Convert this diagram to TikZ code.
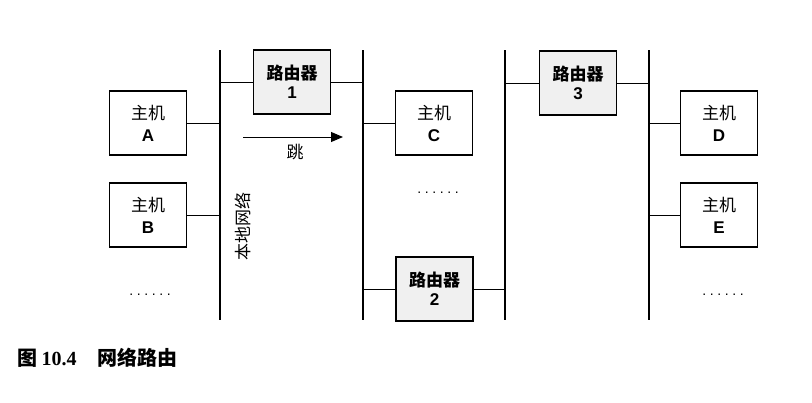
\documentclass[tikz,border=0pt]{standalone}
\usepackage{fontspec}
\setmainfont{Liberation Sans}
\newfontfamily\cjk{Noto Sans CJK SC}
\usetikzlibrary{arrows.meta}
\newcommand{\mydots}{.\hspace{3.6pt}.\hspace{3.6pt}.\hspace{3.6pt}.\hspace{3.6pt}.\hspace{3.6pt}.}
\tikzset{
  hostbox/.style={draw=black, line width=1.3pt, minimum width=77pt, minimum height=64pt, inner sep=0pt, align=center, font=\fontsize{17}{19}\selectfont, fill=white},
  routerbox/.style={hostbox, fill=black!6},
  bus/.style={line width=2.6pt},
  link/.style={line width=1pt},
  dots/.style={font=\fontsize{14}{16}\selectfont}
}
\begin{document}
\begin{tikzpicture}[x=1pt,y=-1pt]
\useasboundingbox (0,0) rectangle (812,402);
% buses
\coordinate (b1t) at (220,50); \coordinate (b1b) at (220,320);
\coordinate (b2t) at (363,50); \coordinate (b2b) at (363,320);
\coordinate (b3t) at (505,50); \coordinate (b3b) at (505,320);
\coordinate (b4t) at (649,50); \coordinate (b4b) at (649,320);
\draw[bus] (b1t) -- (b1b);
\draw[bus] (b2t) -- (b2b);
\draw[bus] (b3t) -- (b3b);
\draw[bus] (b4t) -- (b4b);
% hosts
\node[hostbox] (A) at (148,123) {{\cjk 主机}\\[3pt]\textbf{A}};
\node[hostbox] (B) at (148,215) {{\cjk 主机}\\[3pt]\textbf{B}};
\node[hostbox] (C) at (434,123) {{\cjk 主机}\\[3pt]\textbf{C}};
\node[hostbox] (D) at (719,123) {{\cjk 主机}\\[3pt]\textbf{D}};
\node[hostbox] (E) at (719,215) {{\cjk 主机}\\[3pt]\textbf{E}};
% routers
\node[routerbox] (R1) at (292,82) {{\cjk\bfseries 路由器}\\[0pt]\textbf{1}};
\node[routerbox] (R2) at (434.5,289) {{\cjk\bfseries 路由器}\\[0pt]\textbf{2}};
\node[routerbox] (R3) at (578,83) {{\cjk\bfseries 路由器}\\[0pt]\textbf{3}};
% links
\draw[link] (A.east) -- (A.east -| b1t);
\draw[link] (B.east) -- (B.east -| b1t);
\draw[link] (C.west) -- (C.west -| b2t);
\draw[link] (D.west) -- (D.west -| b4t);
\draw[link] (E.west) -- (E.west -| b4t);
\draw[link] (R1.west) -- (R1.west -| b1t);
\draw[link] (R1.east) -- (R1.east -| b2t);
\draw[link] (R2.west) -- (R2.west -| b2t);
\draw[link] (R2.east) -- (R2.east -| b3t);
\draw[link] (R3.west) -- (R3.west -| b3t);
\draw[link] (R3.east) -- (R3.east -| b4t);
% hop arrow
\coordinate (h1) at (243,137); \coordinate (h2) at (343,137);
\draw[line width=1pt, -{Triangle[length=12pt,width=10pt]}] (h1) -- (h2);
\node[font=\cjk\fontsize{17}{19}\selectfont] (hop) at (295,152) {跳};
% local net label
\node[font=\cjk\fontsize{17}{19}\selectfont, rotate=90] (lan) at (243,226) {本地网络};
% dots
\node[dots] (d1) at (150,295) {\mydots};
\node[dots] (d2) at (438,193) {\mydots};
\node[dots] (d3) at (723,295) {\mydots};
% caption
\node[anchor=west, font=\cjk\bfseries\fontsize{20}{22}\selectfont] (cap) at (14,358) {图\hspace{0.2em}{\fontspec{Liberation Serif}\bfseries 10.4}\hspace{1.05em}网络路由};
\end{tikzpicture}
\end{document}
